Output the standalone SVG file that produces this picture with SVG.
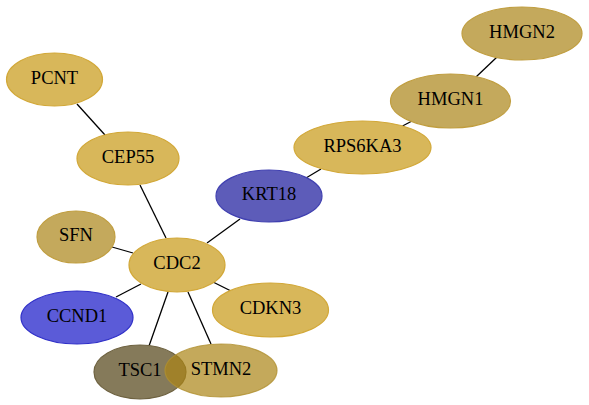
<svg xmlns="http://www.w3.org/2000/svg" width="589" height="405" viewBox="0 0 589 405">
<style>
  .e { stroke: #000; stroke-width: 1.3; fill: none; }
  ellipse { stroke-width: 1.2; }
  .y { fill: #d8b75a; stroke: #d2a838; }
  .t { fill: #c4a95c; stroke: #c09e40; }
  .st { fill: #ab8416; fill-opacity: 0.7; stroke: #b09030; stroke-opacity: 0.8; }
  .k { fill: #5d5cb9; stroke: #4040b0; }
  .c { fill: #5b5bd8; stroke: #3030c8; }
  .ts { fill: #857a5a; stroke: #6e6240; }
</style>
<rect width="589" height="405" fill="#fff"/>
<g id="edges">
  <line class="e" x1="77" y1="104" x2="105" y2="135"/>
  <line class="e" x1="140" y1="185" x2="166" y2="238"/>
  <line class="e" x1="207" y1="243" x2="240" y2="219"/>
  <line class="e" x1="306" y1="178" x2="321" y2="169"/>
  <line class="e" x1="402.5" y1="126" x2="412" y2="121"/>
  <line class="e" x1="476" y1="77" x2="497" y2="57"/>
  <line class="e" x1="112" y1="247" x2="133" y2="253"/>
  <line class="e" x1="116" y1="297" x2="141" y2="284"/>
  <line class="e" x1="213" y1="282" x2="231" y2="291"/>
  <line class="e" x1="168" y1="292" x2="149" y2="346"/>
  <line class="e" x1="188" y1="292" x2="211" y2="344"/>
</g>
<g font-family="'Liberation Serif', 'Times New Roman', Times, serif" font-size="18.5" text-anchor="middle" fill="#000">
<g id="PCNT"><ellipse class="y" cx="54.5" cy="79.5" rx="48" ry="26.5"/><text x="54.5" y="83.8" fill="#000">PCNT</text></g>
<g id="CEP55"><ellipse class="y" cx="128" cy="158.5" rx="51" ry="26.5"/><text x="128" y="162.8" fill="#000">CEP55</text></g>
<g id="KRT18"><ellipse class="k" cx="269" cy="196" rx="53" ry="26"/><text x="269" y="200.3" fill="#000">KRT18</text></g>
<g id="RPS6KA3"><ellipse class="y" cx="362.5" cy="147.5" rx="68.5" ry="26.5"/><text x="362.5" y="151.8" fill="#000">RPS6KA3</text></g>
<g id="HMGN1"><ellipse class="t" cx="450.5" cy="101" rx="60" ry="27"/><text x="450.5" y="105.3" fill="#000">HMGN1</text></g>
<g id="HMGN2"><ellipse class="t" cx="522" cy="33.5" rx="60" ry="26.5"/><text x="522" y="37.8" fill="#000">HMGN2</text></g>
<g id="SFN"><ellipse class="t" cx="76" cy="237" rx="39" ry="26"/><text x="76" y="241.3" fill="#000">SFN</text></g>
<g id="CDC2"><ellipse class="y" cx="177" cy="265" rx="48" ry="27"/><text x="177" y="269.3" fill="#000">CDC2</text></g>
<g id="CCND1"><ellipse class="c" cx="77" cy="317.5" rx="56" ry="26.5"/><text x="77" y="321.8" fill="#000">CCND1</text></g>
<g id="CDKN3"><ellipse class="y" cx="270.5" cy="310" rx="58" ry="27"/><text x="270.5" y="314.3" fill="#000">CDKN3</text></g>
<g id="TSC1"><ellipse class="ts" cx="140" cy="372" rx="46" ry="27"/><text x="140" y="376.3" fill="#000">TSC1</text></g>
<g id="STMN2"><ellipse class="st" cx="221" cy="370.5" rx="56" ry="26.5"/><text x="221" y="374.8" fill="#000">STMN2</text></g>
</g>
</svg>
